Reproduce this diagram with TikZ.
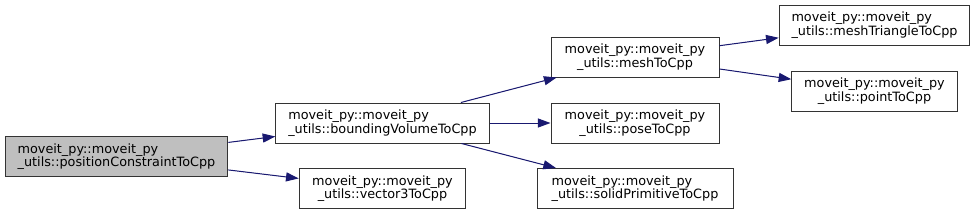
\documentclass[tikz,border=0pt]{standalone}
\usepackage{fontspec}
\newfontfamily\dejavu{DejaVu Sans}
\usetikzlibrary{arrows.meta}
\definecolor{callnavy}{HTML}{191970}
\definecolor{rootgrey}{HTML}{BFBFBF}
\definecolor{boxink}{HTML}{333333}

\begin{document}
\begin{tikzpicture}[x=.75pt,y=-.75pt,
    font=\dejavu\fontsize{9.6}{10}\selectfont,
    fnbox/.style={draw=boxink,line width=.75pt,fill=white,rectangle,inner sep=0pt,minimum height=30pt},
    rootbox/.style={fnbox,fill=rootgrey,draw=black!80},
    call/.style={-{Triangle[length=9.5pt,width=6.8pt]},draw=callnavy,fill=callnavy,line width=.75pt}]
  \useasboundingbox (0,0) rectangle (976,215);
  \node[rootbox,minimum width=167pt,align=left] (posc) at (116.5,156.5) {moveit\_py::moveit\_py\\\_utils::positionConstraintToCpp};
  \node[fnbox,minimum width=160pt,align=left] (bvol) at (382.5,123) {moveit\_py::moveit\_py\\\_utils::boundingVolumeToCpp};
  \node[fnbox,minimum width=125pt,align=center] (vec3) at (382.5,188.5) {moveit\_py::moveit\_py\\\_utils::vector3ToCpp};
  \node[fnbox,minimum width=126pt,align=center] (mesh) at (635,57) {moveit\_py::moveit\_py\\\_utils::meshToCpp};
  \node[fnbox,minimum width=126pt,align=center] (pose) at (635,123) {moveit\_py::moveit\_py\\\_utils::poseToCpp};
  \node[fnbox,minimum width=147pt,align=left] (solid) at (635,188.5) {moveit\_py::moveit\_py\\\_utils::solidPrimitiveToCpp};
  \node[fnbox,minimum width=143pt,align=left] (mtri) at (874.5,25) {moveit\_py::moveit\_py\\\_utils::meshTriangleToCpp};
  \node[fnbox,minimum width=124pt,align=center] (point) at (874.5,91) {moveit\_py::moveit\_py\\\_utils::pointToCpp};
  \foreach \from/\to in {posc/bvol,posc/vec3,bvol/mesh,bvol/pose,bvol/solid,mesh/mtri,mesh/point}{
    \draw[call] (\from) -- (\to);
  }
\end{tikzpicture}
\end{document}
